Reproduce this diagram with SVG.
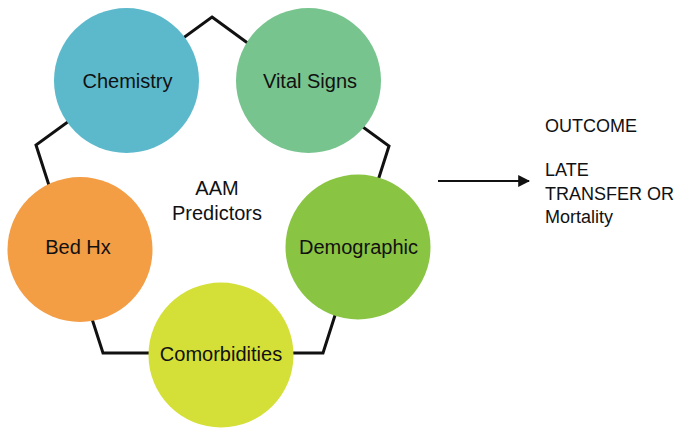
<svg xmlns="http://www.w3.org/2000/svg" width="679" height="431" viewBox="0 0 679 431">
<style>
.lbl{font-family:"Liberation Sans",Arial,sans-serif;font-size:20px;fill:#111;text-anchor:middle}
.out{font-family:"Liberation Sans",Arial,sans-serif;font-size:18px;fill:#111}
.frame{fill:none;stroke:#111;stroke-width:3;stroke-linejoin:miter}
</style>
<defs>
<marker id="ah" viewBox="0 0 10 10" refX="9" refY="5" markerWidth="12" markerHeight="12" orient="auto" markerUnits="userSpaceOnUse">
<path d="M0,0 L10,5 L0,10 Z" fill="#111"/>
</marker>
</defs>
<rect width="679" height="431" fill="#fff"/>
<g id="connectors">
<polygon class="frame" points="212,17 389,146 323,353 103,353 36,145"/>
<line x1="438" y1="181" x2="529" y2="181" stroke="#111" stroke-width="2" marker-end="url(#ah)"/>
</g>
<g id="chemistry">
<circle cx="126.5" cy="80.5" r="72.5" fill="#5CB9CC"/>
<text class="lbl" x="127.5" y="88">Chemistry</text>
</g>
<g id="vital-signs">
<circle cx="308.5" cy="80.5" r="72.5" fill="#78C48E"/>
<text class="lbl" x="310" y="88">Vital Signs</text>
</g>
<g id="demographic">
<circle cx="358" cy="247" r="72.5" fill="#8AC443"/>
<text class="lbl" x="358.5" y="254">Demographic</text>
</g>
<g id="comorbidities">
<circle cx="221" cy="355" r="72.5" fill="#D4DF38"/>
<text class="lbl" x="221" y="361">Comorbidities</text>
</g>
<g id="bed-hx">
<circle cx="80" cy="249.5" r="72.5" fill="#F39D45"/>
<text class="lbl" x="78" y="254">Bed Hx</text>
</g>
<g id="center">
<text class="lbl" x="217" y="195">AAM</text>
<text class="lbl" x="217" y="220">Predictors</text>
</g>
<g id="outcome">
<text class="out" x="545" y="132">OUTCOME</text>
<text class="out" x="545" y="176">LATE</text>
<text class="out" x="545" y="200">TRANSFER OR</text>
<text class="out" x="545" y="223">Mortality</text>
</g>
</svg>
